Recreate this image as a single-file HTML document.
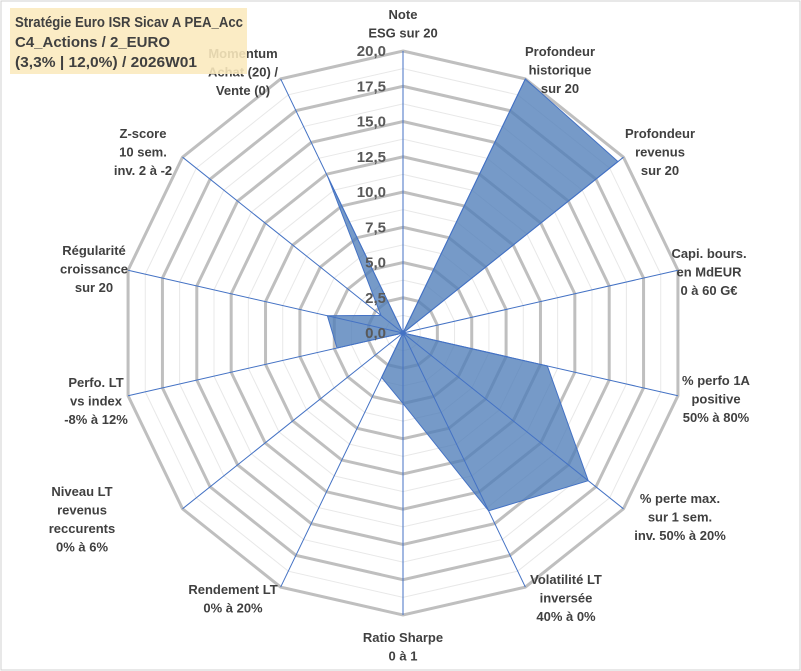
<!DOCTYPE html>
<html><head><meta charset="utf-8"><style>
body{margin:0;background:#fff;}
svg{display:block;font-family:"Liberation Sans",sans-serif;}
</style></head><body>
<svg id="c" width="801" height="671">
<rect x="1" y="1" width="799" height="669" fill="#fff" stroke="#d0d0d0"/>
</svg>
<script>
const categories=[["Note","ESG sur 20"],["Profondeur","historique","sur 20"],["Profondeur","revenus","sur 20"],["Capi. bours.","en MdEUR","0 à 60 G€"],["% perfo 1A","positive","50% à 80%"],["% perte max.","sur 1 sem.","inv. 50% à 20%"],["Volatilité LT","inversée","40% à 0%"],["Ratio Sharpe","0 à 1"],["Rendement LT","0% à 20%"],["Niveau LT","revenus","reccurents","0% à 6%"],["Perfo. LT","vs index","-8% à 12%"],["Régularité","croissance","sur 20"],["Z-score","10 sem.","inv. 2 à -2"],["Momentum","Achat (20) /","Vente (0)"]];
const values=[0,20,19.5,0,10.5,16.8,14,5,3.5,0,4.8,5.5,2,12.3];
const ticks=["0,0","2,5","5,0","7,5","10,0","12,5","15,0","17,5","20,0"];
const labelPos=[[403,14],[560,51],[660,133],[709,253],[716,380],[680,498],[566,579],[403,637],[233,589],[82,491],[96,382],[94,250],[143,133],[243,53]];
const NS="http://www.w3.org/2000/svg",svg=document.getElementById('c');
const cx=403,cy=333,R=282,max=20,n=categories.length;
function pt(i,v){const a=i*2*Math.PI/n;const r=v/max*R;return [cx+r*Math.sin(a),cy-r*Math.cos(a)];}
function mk(t,at){const e=document.createElementNS(NS,t);for(const k in at)e.setAttribute(k,at[k]);svg.appendChild(e);return e;}
for(let k=1;k<=16;k++){const v=k*1.25;const p=[];for(let i=0;i<n;i++)p.push(pt(i,v).join(','));
 const e=mk('polygon',{points:p.join(' '),fill:'none',stroke:k%2?'#e8e8e8':'#bfbfbf','stroke-width':k%2?1:3});
 
 }
const poly=[];for(let i=0;i<n;i++)poly.push(pt(i,values[i]).join(','));
const s=mk('polygon',{points:poly.join(' '),fill:'#4f7db8','fill-opacity':'0.78',stroke:'#4472c4','stroke-width':1});


for(let i=0;i<n;i++){const p=pt(i,max);const l=mk('line',{x1:cx,y1:cy,x2:p[0],y2:p[1],stroke:'#4472c4','stroke-width':1});
 
 }
ticks.forEach((t,k)=>{const y=cy-k*2.5/max*R;const e=mk('text',{x:386,y:y+5,'text-anchor':'end','font-size':15,'font-weight':'bold',fill:'#595959'});e.textContent=t;
 
 });
categories.forEach((lines,i)=>{const [x,y]=labelPos[i];const g=mk('text',{'text-anchor':'middle','font-size':13,'font-weight':'bold',fill:'#404040'});
 
 
 lines.forEach((ln,j)=>{const ts=document.createElementNS(NS,'tspan');ts.setAttribute('x',x);ts.setAttribute('y',y+5+j*18.5);ts.textContent=ln;g.appendChild(ts);});});
const b=mk('rect',{x:10,y:8,width:237,height:66,fill:'#fbe9bd','fill-opacity':'0.88'});


const tw=[228,155,182];
["Stratégie Euro ISR Sicav A PEA_Acc","C4_Actions / 2_EURO","(3,3% | 12,0%) / 2026W01"].forEach((t,j)=>{const e=mk('text',{x:15,y:27+j*20,'font-size':15,fill:'#404040','font-weight':'bold',textLength:tw[j],lengthAdjust:'spacingAndGlyphs'});e.textContent=t;
 
 });
</script>
</body></html>
